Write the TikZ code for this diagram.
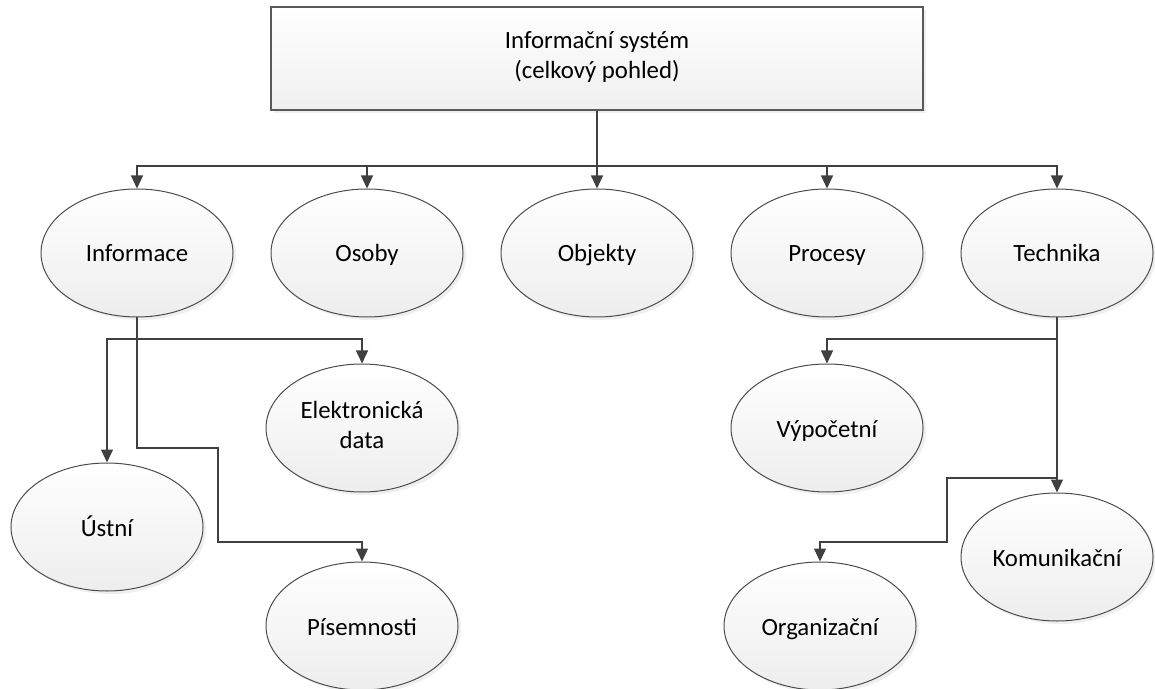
\documentclass[tikz,border=0pt]{standalone}
\usepackage{fontspec}
\setmainfont{Carlito}
\usetikzlibrary{shapes.geometric,shadows,arrows.meta}

\newcommand\podpera{\rule[-3.5pt]{0pt}{16pt}}

\tikzset{
  stin/.style={drop shadow={shadow xshift=1.5pt, shadow yshift=-1.5pt, fill=black!12}},
  ell/.style={ellipse, draw=black!70, line width=0.5pt, top color=white, bottom color=black!7,
    minimum width=96pt, minimum height=64pt, inner sep=0pt, align=center, stin,
    execute at begin node=\podpera},
  hlavni/.style={rectangle, draw=black!65, line width=1pt, top color=white, bottom color=black!6,
    minimum width=326pt, minimum height=51.5pt, align=center, stin,
    execute at begin node=\podpera},
  spoj/.style={draw=black!75, line width=0.6pt},
  sip/.style={spoj, -{Triangle[width=6pt,length=6.5pt]}}
}

\begin{document}
\begin{tikzpicture}[x=0.5pt, y=-0.5pt, font=\fontsize{12.4}{15}\selectfont]
  \useasboundingbox (0,0) rectangle (1155,689);

  % Hlavni blok
  \node[hlavni] (is) at (597,58.5) {Informační systém\\(celkový pohled)};

  % Prvni rada
  \node[ell] (inf)  at (137,253)  {Informace};
  \node[ell] (oso)  at (367,253)  {Osoby};
  \node[ell] (obj)  at (597,253)  {Objekty};
  \node[ell] (pro)  at (827,253)  {Procesy};
  \node[ell] (tech) at (1057,253) {Technika};

  % Informace
  \node[ell] (edata) at (362,428) {Elektronická\\data};
  \node[ell] (ustni) at (107,527) {Ústní};
  \node[ell] (pis)   at (362,626) {Písemnosti};

  % Technika
  \node[ell] (vyp) at (827,428)  {Výpočetní};
  \node[ell] (kom) at (1057,557) {Komunikační};
  \node[ell] (org) at (820,626)  {Organizační};

  % Spoje
  \coordinate (bus) at (597,166);
  \draw[sip] (is.south) -- (obj.north);
  \foreach \n in {inf,oso,pro,tech}
    \draw[sip] (bus) -| (\n.north);

  \coordinate (ib) at (137,339);
  \draw[sip] (ib) -| (ustni.north);
  \draw[sip] (ib) -| (edata.north);
  \coordinate (ilom1) at (218,448);
  \coordinate (ilom2) at (218,542);
  \draw[sip] (inf.south) |- (ilom1) -- (ilom2) -| (pis.north);

  \coordinate (tb) at (1057,339);
  \draw[sip] (tech.south) -- (kom.north);
  \draw[sip] (tb) -| (vyp.north);
  \coordinate (tlom1) at (947,478);
  \coordinate (tlom2) at (947,542);
  \draw[sip] (tech.south |- tlom1) -- (tlom1) -- (tlom2) -| (org.north);

\end{tikzpicture}
\end{document}
